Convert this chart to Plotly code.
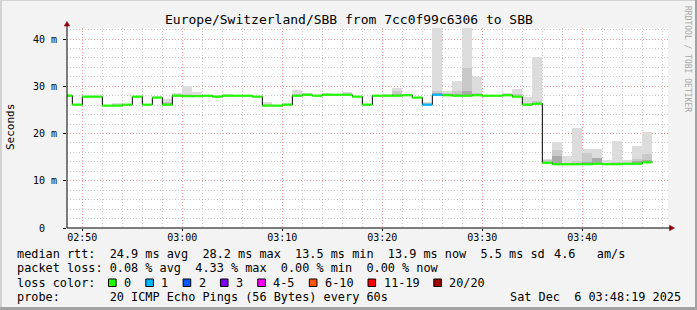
import plotly.graph_objects as go
import pandas as pd

# ---------------- data ----------------
title_text = "Europe/Switzerland/SBB from 7cc0f99c6306 to SBB"
start_time = "2025-12-06 02:48:00"

median_ms = [28.0, 26.1, 27.8, 27.8, 25.9, 25.9, 26.1, 27.8, 26.1, 27.6,
             26.1, 28.0, 27.9, 27.9, 28.0, 27.8, 28.0, 28.0, 28.0, 27.8,
             25.9, 25.9, 26.1, 28.0, 28.2, 28.0, 28.2, 28.2, 28.2, 27.8,
             26.1, 28.0, 28.0, 28.0, 28.1, 27.6, 26.1, 28.2, 28.1, 28.0,
             28.0, 28.1, 28.0, 28.0, 28.1, 27.8, 26.1, 26.3, 13.8, 13.5,
             13.5, 13.5, 13.5, 13.6, 13.5, 13.5, 13.6, 13.6, 13.9]

smoke_hi = [28.3, 26.1, 27.8, 27.8, 25.9, 26.5, 26.2, 27.8, 26.1, 28.0,
            27.3, 28.5, 30.0, 28.7, 28.0, 28.1, 28.3, 28.0, 28.0, 27.8,
            26.6, 25.9, 26.3, 29.2, 28.5, 28.0, 28.5, 28.2, 28.8, 27.8,
            26.1, 28.0, 28.4, 29.6, 28.1, 27.6, 26.6, 45.0, 29.1, 31.1,
            45.0, 31.9, 28.0, 28.0, 28.6, 29.5, 27.8, 36.2, 14.7, 18.2,
            15.2, 21.1, 16.7, 16.7, 14.4, 18.4, 14.4, 17.4, 20.3]

smoke_mid = [28.1, 26.1, 27.8, 27.8, 25.9, 26.1, 26.1, 27.8, 26.1, 27.7,
             26.7, 28.2, 28.4, 28.1, 28.0, 27.8, 28.1, 28.0, 28.0, 27.8,
             26.2, 25.9, 26.1, 28.4, 28.2, 28.0, 28.2, 28.2, 28.4, 27.8,
             26.1, 28.0, 28.0, 29.0, 28.1, 27.6, 26.3, 29.1, 28.5, 29.1,
             33.9, 28.6, 28.0, 28.0, 28.1, 28.3, 26.5, 26.8, 14.3, 16.5,
             13.8, 14.2, 15.9, 14.8, 13.5, 14.0, 13.6, 14.7, 15.7]

smoke_core = [28.0, 26.1, 27.8, 27.8, 25.9, 25.9, 26.1, 27.8, 26.1, 27.6,
              26.3, 28.0, 27.9, 27.9, 28.0, 27.8, 28.0, 28.0, 28.0, 27.8,
              25.9, 25.9, 26.1, 28.0, 28.2, 28.0, 28.2, 28.2, 28.2, 27.8,
              26.1, 28.0, 28.0, 28.4, 28.1, 27.6, 26.1, 28.6, 28.1, 28.4,
              29.0, 28.1, 28.0, 28.0, 28.1, 27.8, 26.1, 26.3, 13.8, 15.2,
              13.5, 13.5, 14.0, 14.8, 13.5, 13.5, 13.6, 14.1, 14.3]

loss_count = [0] * 36 + [1, 1] + [0] * 21

loss_labels = ["0", "1", "2", "3", "4-5", "6-10", "11-19", "20/20"]
loss_colors = ["#20ff00", "#00b8ff", "#0059ff", "#7e00ff", "#ff00ff",
               "#ff5500", "#ff0000", "#a10000"]

y_tick_vals = [0, 10, 20, 30, 40]
y_tick_text = ["0\u00a0\u00a0", "10 m", "20 m", "30 m", "40 m"]

line_rtt = "median rtt:  24.9 ms avg  28.2 ms max  13.5 ms min  13.9 ms now  5.5 ms sd"
line_rtt2 = "4.6   am/s"
line_loss = "packet loss: 0.08 % avg  4.33 % max  0.00 % min  0.00 % now"
line_color = "loss color:"
line_probe = "probe:       20 ICMP Echo Pings (56 Bytes) every 60s"
stamp = "Sat Dec  6 03:48:19 2025"
vendor = "RRDTOOL / TOBI OETIKER"

# ---------------- geometry ----------------
W, H = 697, 310
PL, PR, PT, PB = 67, 668, 28, 228
FONT = "DejaVu Sans Mono"


def px(xp):
    return (xp - PL) / (PR - PL)


def py(yp):
    return (PB - yp) / (PB - PT)


times = pd.date_range(start_time, periods=len(median_ms), freq="min")
step = pd.Timedelta(minutes=1)
ends = times + step

fig = go.Figure()

# smoke bands
smoke_layers = [(smoke_hi, "#dcdcdc"), (smoke_mid, "#c9c9c9"), (smoke_core, "#aaaaaa")]
for arr, col in smoke_layers:
    fig.add_trace(go.Bar(
        x=times, y=[a - m for a, m in zip(arr, median_ms)], base=median_ms,
        width=60000, offset=0, marker=dict(color=col, line=dict(width=0)),
        hoverinfo="skip", showlegend=False))

# black connecting step line
fig.add_trace(go.Scatter(
    x=list(times) + [ends[-1]], y=median_ms + [median_ms[-1]],
    mode="lines", line=dict(color="#000000", width=1, shape="hv"),
    hoverinfo="skip", showlegend=False))

# coloured median segments by loss
for li, col in enumerate(loss_colors):
    xs, ys = [], []
    for t0, t1, m, lc in zip(times, ends, median_ms, loss_count):
        if lc == li:
            xs += [t0, t1, None]
            ys += [m, m, None]
    if xs:
        fig.add_trace(go.Scatter(x=xs, y=ys, mode="lines",
                                 line=dict(color=col, width=2.2),
                                 hoverinfo="skip", showlegend=False))

shapes = []
# frame
shapes.append(dict(type="rect", xref="paper", yref="paper", x0=px(0), x1=px(2), y0=py(0), y1=py(H),
                   fillcolor="#d2d2d2", line=dict(width=0), layer="below"))
shapes.append(dict(type="rect", xref="paper", yref="paper", x0=px(0), x1=px(W), y0=py(0), y1=py(1),
                   fillcolor="#d2d2d2", line=dict(width=0), layer="below"))
shapes.append(dict(type="rect", xref="paper", yref="paper", x0=px(0), x1=px(W), y0=py(307), y1=py(H),
                   fillcolor="#a2a2a2", line=dict(width=0), layer="below"))
shapes.append(dict(type="rect", xref="paper", yref="paper", x0=px(695), x1=px(W), y0=py(0), y1=py(H),
                   fillcolor="#a2a2a2", line=dict(width=0), layer="below"))
# axis lines with arrows
shapes.append(dict(type="line", xref="paper", yref="paper", x0=px(67), x1=px(67), y0=py(228), y1=py(24),
                   line=dict(color="#000000", width=1)))
shapes.append(dict(type="line", xref="paper", yref="paper", x0=px(67), x1=px(671), y0=py(228), y1=py(228),
                   line=dict(color="#000000", width=1)))
shapes.append(dict(type="path", xref="paper", yref="paper",
                   path=f"M {px(67)} {py(21.5)} L {px(64.2)} {py(26)} L {px(69.8)} {py(26)} Z",
                   fillcolor="#8b0000", line=dict(color="#8b0000", width=0.5)))
shapes.append(dict(type="path", xref="paper", yref="paper",
                   path=f"M {px(674.5)} {py(228)} L {px(669.5)} {py(225.2)} L {px(669.5)} {py(230.8)} Z",
                   fillcolor="#8b0000", line=dict(color="#8b0000", width=0.5)))

annotations = []


def text(x, y, s, size=11.85, anchor="left", color="#000000", angle=0):
    annotations.append(dict(xref="paper", yref="paper", x=px(x), y=py(y), text=s,
                            showarrow=False, xanchor=anchor, yanchor="middle",
                            borderpad=0, textangle=angle,
                            font=dict(family=FONT, size=size, color=color)))


text(348.5, 19, title_text, size=13, anchor="center")
text(10, 127, "Seconds", size=11, anchor="center", angle=-90)
text(688, 59, vendor, size=8, anchor="center", color="#a8a8a8", angle=90)
text(16, 254, line_rtt)
text(553.3, 254, line_rtt2)
text(16, 268, line_loss)
text(16, 282.5, line_color)
text(16, 296.5, line_probe)
text(682, 296.5, stamp, anchor="right")

# loss colour legend boxes
cw = 7.12
bx = 108.5
for lab, col in zip(loss_labels, loss_colors):
    shapes.append(dict(type="rect", xref="paper", yref="paper",
                       x0=px(bx), x1=px(bx + 7.6), y0=py(279), y1=py(286.5),
                       fillcolor=col, line=dict(color="#000000", width=1)))
    lx = bx + 14.6
    text(lx, 282.5, lab)
    bx = lx + len(lab) * cw + 15.6

fig.update_layout(
    width=W, height=H,
    margin=dict(l=PL, r=W - PR, t=PT, b=H - PB, pad=0),
    paper_bgcolor="#f3f3f3", plot_bgcolor="#ffffff",
    barmode="overlay", bargap=0,
    showlegend=False,
    shapes=shapes, annotations=annotations,
    xaxis=dict(
        type="date",
        range=["2025-12-06 02:48:28", "2025-12-06 03:48:34"],
        tick0="2025-12-06 02:50:00", dtick=600000, tickformat="%H:%M",
        showgrid=True, gridcolor="#ff9c9c", griddash="1px,2px", gridwidth=1,
        minor=dict(dtick=120000, tick0="2025-12-06 02:50:00", showgrid=True,
                   gridcolor="#cccccc", griddash="1px,2px", gridwidth=1),
        ticks="outside", ticklen=2, tickcolor="#000000",
        ticklabelstandoff=-2,
        tickfont=dict(family=FONT, size=10, color="#000000"),
        showline=False, zeroline=False, fixedrange=True,
    ),
    yaxis=dict(
        range=[0, 42.33],
        tickvals=y_tick_vals, ticktext=y_tick_text,
        showgrid=True, gridcolor="#ff9c9c", griddash="1px,2px", gridwidth=1,
        minor=dict(dtick=2, showgrid=True, gridcolor="#cccccc", griddash="1px,2px", gridwidth=1),
        ticks="outside", ticklen=3, tickcolor="#000000",
        ticklabelstandoff=4,
        tickfont=dict(family=FONT, size=10, color="#000000"),
        showline=False, zeroline=False, fixedrange=True,
    ),
)

fig.write_html("out.html")
